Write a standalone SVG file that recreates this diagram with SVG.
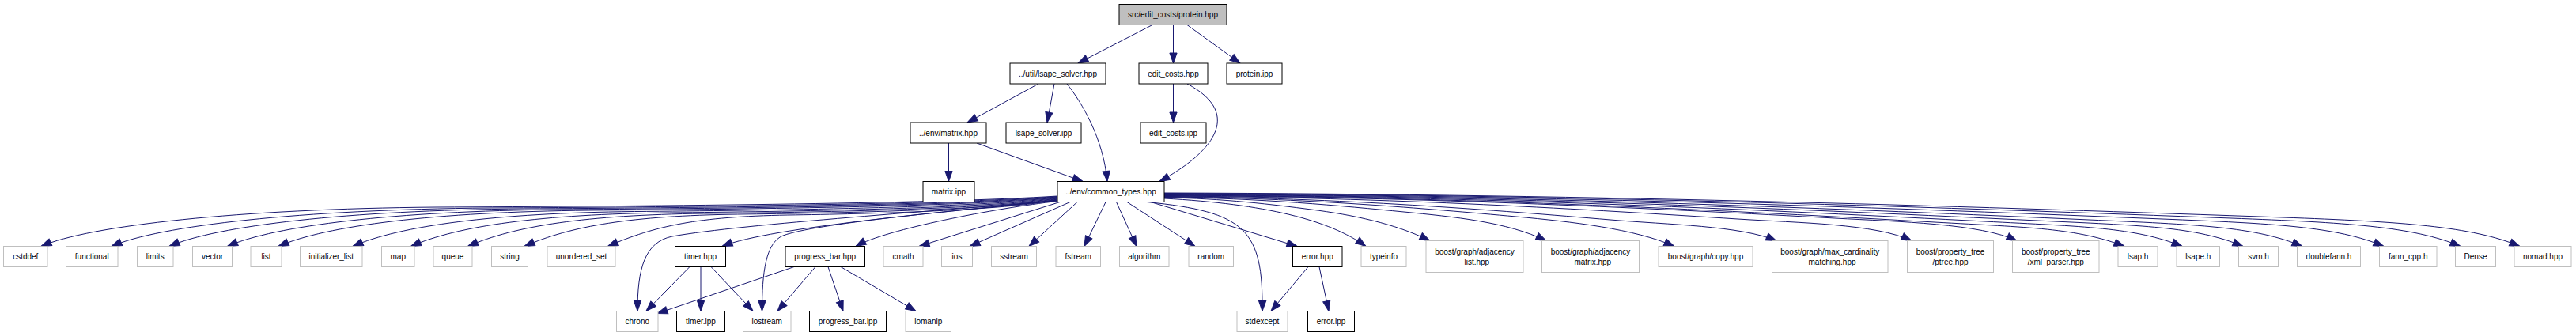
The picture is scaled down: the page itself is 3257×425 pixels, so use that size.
<svg xmlns="http://www.w3.org/2000/svg" width="3257" height="425" viewBox="0 0 3257 425">
<style>
.e path{fill:none;stroke:#191970;stroke-width:1;marker-end:url(#a)}
.x rect{fill:#fff;stroke:#bfbfbf;stroke-width:1}
.d rect{fill:#fff;stroke:#000;stroke-width:1}
.r rect{fill:#bfbfbf;stroke:#000;stroke-width:1}
text{font-family:"Liberation Sans",Arial,Helvetica,sans-serif;font-size:10px;fill:#000;text-anchor:middle}
</style>
<defs>
<marker id="a" markerUnits="userSpaceOnUse" viewBox="-14 -6 15 12" refX="0" refY="0" markerWidth="15" markerHeight="12" orient="auto" overflow="visible"><path d="M0,0L-13,-4.6L-13,4.6Z" fill="#191970" stroke="#191970" stroke-width="1"/></marker>
</defs>
<rect width="3257" height="425" fill="#fff"/>
<g id="connectors" class="e">
<path d="M1457,31.5 L1363,80"/>
<path d="M1483.5,31.5 L1483.5,80"/>
<path d="M1501,31.5 L1568,80"/>
<path d="M1313,106 L1223,155"/>
<path d="M1333,106 L1324,155"/>
<path d="M1349,106 C1368,130 1395,175 1400,229.5"/>
<path d="M1483.5,106 L1483.5,155"/>
<path d="M1501,106 C1575,145 1530,195 1466,229.5"/>
<path d="M1199.5,181 L1199.5,229.5"/>
<path d="M1235,181 L1369,229.5"/>
<path d="M1337,248 C1187.9,257.9 787.5,261 552,262 C302,264 112,285.5 52,311.5"/>
<path d="M1337,248.5 C1200.7,258.8 834.7,262 619.4,263 C380.2,265 201,285.5 141,311.5"/>
<path d="M1337,249 C1209,259.7 865.3,263 663.2,264 C438.6,266 274,285.5 214,311.5"/>
<path d="M1337,249.5 C1217.4,260.5 896.2,263.9 707.3,265 C497.4,267 347.5,285.5 287.5,311.5"/>
<path d="M1337,250 C1224.7,261.4 923.3,264.9 746,266 C549,268 412,285.5 352,311.5"/>
<path d="M1337,250.5 C1235.4,262.6 962.8,266.3 802.4,267.5 C624.2,269.5 506,285.5 446,311.5"/>
<path d="M1337,251 C1243.8,263.8 993.6,267.7 846.5,269 C683,271 579.5,285.5 519.5,311.5"/>
<path d="M1337,251.5 C1252,264.6 1023.9,268.7 889.7,270 C740.6,272 651.5,285.5 591.5,311.5"/>
<path d="M1337,252 C1260.2,265.5 1053.9,269.7 932.6,271 C797.8,273 723,285.5 663,311.5"/>
<path d="M1337,252.5 C1272.2,266.3 1098.2,270.6 995.9,272 C882.2,274 828.5,285.5 768.5,311.5"/>
<path d="M1337,253 C1200,268 975,287 913,311.5"/>
<path d="M1337,253.5 C1200,266 940,283 850,299 C815,306 806,340 806,393.5"/>
<path d="M1337,254 C1200,267 1030,283 990,298 C968,307 963.5,345 963.5,393.5"/>
<path d="M1337,254.5 C1260,263 1120,290 1082,311.5"/>
<path d="M1340,255.5 L1162,311.5"/>
<path d="M1353,255.5 L1226,311.5"/>
<path d="M1362,255.5 L1301,311.5"/>
<path d="M1398,255.5 L1371,311.5"/>
<path d="M1411.5,255.5 L1437,311.5"/>
<path d="M1425,255.5 L1511,311.5"/>
<path d="M1455,255.5 L1640,311.5"/>
<path d="M1450,255.5 C1575,268 1597,290 1596,393.5"/>
<path d="M1472,251 C1600,258 1680,278 1727,311.5"/>
<path d="M1472,250 C1546.4,250.75 1611.5,259 1658,265 C1710.5,271.8 1763,282.5 1808,304.5"/>
<path d="M1472,249.5 C1593.2,250.4 1699.25,260.6 1775,268 C1838,274.2 1905,280.5 1955,304.5"/>
<path d="M1472,249 C1650,250.25 1805.75,264 1917,274 C1987,280.3 2067,289.5 2117,311.5"/>
<path d="M1472,248.5 C1697.6,250 1895,266.2 2036,278 C2109.5,284.2 2201,285.5 2246,304.5"/>
<path d="M1472,248 C1762,249.5 2015.75,265.4 2197,277 C2274,281.9 2372,283 2417,304.5"/>
<path d="M1472,247.5 C1811.2,248.9 2108,264.6 2320,276 C2400.5,280.3 2505,283 2550,304.5"/>
<path d="M1472,247 C1861.6,248.7 2202.5,267.4 2446,281 C2566,287.7 2626,288.5 2686,311.5"/>
<path d="M1472,246.5 C1886.8,248.2 2249.75,266.6 2509,280 C2634,286.5 2699,287.5 2759,311.5"/>
<path d="M1472,246 C1913.6,247.7 2300,265.8 2576,279 C2706,285.2 2776,286.3 2836,311.5"/>
<path d="M1472,245.5 C1939.6,247.1 2348.75,265 2641,278 C2776,284 2851,286.3 2911,311.5"/>
<path d="M1472,245 C1976.8,246.6 2418.5,264.2 2734,277 C2874,282.7 2954,286.3 3014,311.5"/>
<path d="M1472,244.5 C2011.6,246.1 2483.75,263.4 2821,276 C2966,281.4 3051,286.3 3111,311.5"/>
<path d="M1472,244 C2037.6,245.6 2532.5,262.6 2886,275 C3036,280.3 3126,286.3 3186,311.5"/>
<path d="M872,337.5 L817,393.5"/>
<path d="M1004,337.5 L831,396.5"/>
<path d="M886,337.5 L886,393.5"/>
<path d="M899,337.5 L952,393.5"/>
<path d="M1031,337.5 L983,393.5"/>
<path d="M1047,337.5 L1066,393.5"/>
<path d="M1063,337.5 L1158,393.5"/>
<path d="M1654,337.5 L1607,393.5"/>
<path d="M1668,337.5 L1680,393.5"/>
</g>
<g id="n_root" class="r"><rect x="1415" y="5.5" width="136" height="26"/><text x="1483" y="22">src/edit_costs/protein.hpp</text></g>
<g id="n_lsape_solver_hpp" class="d"><rect x="1277" y="80" width="121" height="26"/><text x="1337.5" y="96.5">../util/lsape_solver.hpp</text></g>
<g id="n_edit_costs_hpp" class="d"><rect x="1440" y="80" width="87" height="26"/><text x="1483.5" y="96.5">edit_costs.hpp</text></g>
<g id="n_protein_ipp" class="d"><rect x="1551" y="80" width="70" height="26"/><text x="1586" y="96.5">protein.ipp</text></g>
<g id="n_matrix_hpp" class="d"><rect x="1151" y="155" width="96" height="26"/><text x="1199" y="171.5">../env/matrix.hpp</text></g>
<g id="n_lsape_solver_ipp" class="d"><rect x="1272" y="155" width="95" height="26"/><text x="1319.5" y="171.5">lsape_solver.ipp</text></g>
<g id="n_edit_costs_ipp" class="d"><rect x="1442" y="155" width="83" height="26"/><text x="1483.5" y="171.5">edit_costs.ipp</text></g>
<g id="n_matrix_ipp" class="d"><rect x="1167" y="229.5" width="65" height="26"/><text x="1199.5" y="246">matrix.ipp</text></g>
<g id="n_common_types_hpp" class="d"><rect x="1337" y="229.5" width="135" height="26"/><text x="1404.5" y="246">../env/common_types.hpp</text></g>
<g id="n_cstddef" class="x"><rect x="4.5" y="311.5" width="55.5" height="26"/><text x="32.25" y="328">cstddef</text></g>
<g id="n_functional" class="x"><rect x="83.5" y="311.5" width="65.5" height="26"/><text x="116.25" y="328">functional</text></g>
<g id="n_limits" class="x"><rect x="173.5" y="311.5" width="45.5" height="26"/><text x="196.25" y="328">limits</text></g>
<g id="n_vector" class="x"><rect x="243.5" y="311.5" width="50" height="26"/><text x="268.5" y="328">vector</text></g>
<g id="n_list" class="x"><rect x="317" y="311.5" width="39" height="26"/><text x="336.5" y="328">list</text></g>
<g id="n_initializer_list" class="x"><rect x="379.5" y="311.5" width="78.5" height="26"/><text x="418.75" y="328">initializer_list</text></g>
<g id="n_map" class="x"><rect x="482.5" y="311.5" width="41.5" height="26"/><text x="503.25" y="328">map</text></g>
<g id="n_queue" class="x"><rect x="548" y="311.5" width="49" height="26"/><text x="572.5" y="328">queue</text></g>
<g id="n_string" class="x"><rect x="621.5" y="311.5" width="46" height="26"/><text x="644.5" y="328">string</text></g>
<g id="n_unordered_set" class="x"><rect x="692" y="311.5" width="86" height="26"/><text x="735" y="328">unordered_set</text></g>
<g id="n_timer_hpp" class="d"><rect x="853.5" y="311.5" width="64" height="26"/><text x="885.5" y="328">timer.hpp</text></g>
<g id="n_progress_bar_hpp" class="d"><rect x="993" y="311.5" width="100.5" height="26"/><text x="1043.25" y="328">progress_bar.hpp</text></g>
<g id="n_cmath" class="x"><rect x="1117" y="311.5" width="50" height="26"/><text x="1142" y="328">cmath</text></g>
<g id="n_ios" class="x"><rect x="1190.5" y="311.5" width="39" height="26"/><text x="1210" y="328">ios</text></g>
<g id="n_sstream" class="x"><rect x="1253.5" y="311.5" width="57" height="26"/><text x="1282" y="328">sstream</text></g>
<g id="n_fstream" class="x"><rect x="1335" y="311.5" width="56.5" height="26"/><text x="1363.25" y="328">fstream</text></g>
<g id="n_algorithm" class="x"><rect x="1415.5" y="311.5" width="62.5" height="26"/><text x="1446.75" y="328">algorithm</text></g>
<g id="n_random" class="x"><rect x="1503" y="311.5" width="56.5" height="26"/><text x="1531.25" y="328">random</text></g>
<g id="n_error_hpp" class="d"><rect x="1634.5" y="311.5" width="62.5" height="26"/><text x="1665.75" y="328">error.hpp</text></g>
<g id="n_typeinfo" class="x"><rect x="1721" y="311.5" width="57" height="26"/><text x="1749.5" y="328">typeinfo</text></g>
<g id="n_adjacency_list" class="x"><rect x="1803" y="304.5" width="123" height="40"/><text x="1864.5" y="321.5">boost/graph/adjacency</text><text x="1864.5" y="334.5">_list.hpp</text></g>
<g id="n_adjacency_matrix" class="x"><rect x="1949.5" y="304.5" width="123" height="40"/><text x="2011" y="321.5">boost/graph/adjacency</text><text x="2011" y="334.5">_matrix.hpp</text></g>
<g id="n_copy" class="x"><rect x="2097" y="311.5" width="119" height="26"/><text x="2156.5" y="328">boost/graph/copy.hpp</text></g>
<g id="n_max_cardinality" class="x"><rect x="2240.5" y="304.5" width="146.5" height="40"/><text x="2313.75" y="321.5">boost/graph/max_cardinality</text><text x="2313.75" y="334.5">_matching.hpp</text></g>
<g id="n_ptree" class="x"><rect x="2411.5" y="304.5" width="109" height="40"/><text x="2466" y="321.5">boost/property_tree</text><text x="2466" y="334.5">/ptree.hpp</text></g>
<g id="n_xml_parser" class="x"><rect x="2544.5" y="304.5" width="109.5" height="40"/><text x="2599.25" y="321.5">boost/property_tree</text><text x="2599.25" y="334.5">/xml_parser.hpp</text></g>
<g id="n_lsap_h" class="x"><rect x="2678" y="311.5" width="50" height="26"/><text x="2703" y="328">lsap.h</text></g>
<g id="n_lsape_h" class="x"><rect x="2752" y="311.5" width="54.5" height="26"/><text x="2779.25" y="328">lsape.h</text></g>
<g id="n_svm_h" class="x"><rect x="2830.5" y="311.5" width="50" height="26"/><text x="2855.5" y="328">svm.h</text></g>
<g id="n_doublefann_h" class="x"><rect x="2904.5" y="311.5" width="80" height="26"/><text x="2944.5" y="328">doublefann.h</text></g>
<g id="n_fann_cpp_h" class="x"><rect x="3008.5" y="311.5" width="72.5" height="26"/><text x="3044.75" y="328">fann_cpp.h</text></g>
<g id="n_Dense" class="x"><rect x="3104.5" y="311.5" width="51" height="26"/><text x="3130" y="328">Dense</text></g>
<g id="n_nomad_hpp" class="x"><rect x="3179" y="311.5" width="72" height="26"/><text x="3215" y="328">nomad.hpp</text></g>
<g id="n_chrono" class="x"><rect x="779.5" y="393.5" width="52.5" height="26"/><text x="805.75" y="410">chrono</text></g>
<g id="n_timer_ipp" class="d"><rect x="855.5" y="393.5" width="61" height="26"/><text x="886" y="410">timer.ipp</text></g>
<g id="n_iostream" class="x"><rect x="939.5" y="393.5" width="60.5" height="26"/><text x="969.75" y="410">iostream</text></g>
<g id="n_progress_bar_ipp" class="d"><rect x="1023.5" y="393.5" width="97" height="26"/><text x="1072" y="410">progress_bar.ipp</text></g>
<g id="n_iomanip" class="x"><rect x="1145" y="393.5" width="57.5" height="26"/><text x="1173.75" y="410">iomanip</text></g>
<g id="n_stdexcept" class="x"><rect x="1564" y="393.5" width="64" height="26"/><text x="1596" y="410">stdexcept</text></g>
<g id="n_error_ipp" class="d"><rect x="1653.5" y="393.5" width="59" height="26"/><text x="1683" y="410">error.ipp</text></g>
</svg>
